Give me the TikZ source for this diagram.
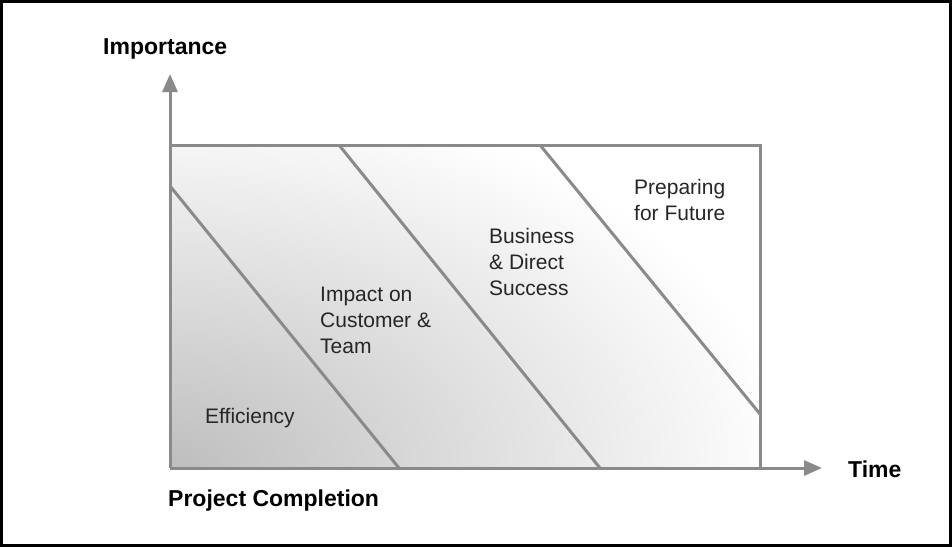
\documentclass[tikz,border=0pt]{standalone}
\usepackage{fontspec}
\setmainfont{Liberation Sans}
\usetikzlibrary{arrows.meta}
\definecolor{linegray}{HTML}{8A8A8A}
\definecolor{darkfill}{HTML}{BEBEBE}
\tikzset{
  grayline/.style={draw=linegray, line width=3pt},
  axisline/.style={draw=linegray, line width=3pt, -{Triangle[length=18pt,width=15pt]}},
  boldlabel/.style={inner sep=0pt, anchor=west, font=\bfseries\fontsize{23}{27}\selectfont},
  zonelabel/.style={inner sep=0pt, anchor=west, align=left, text=black!85, font=\fontsize{21}{26}\selectfont},
}
\begin{document}
\begin{tikzpicture}[x=1pt,y=-1pt]
\useasboundingbox (0,0) rectangle (952,547);
\draw[black, line width=3pt] (1.5,1.5) rectangle (950.5,545.5);
% coordinates
\coordinate (O) at (170,468);
\coordinate (TL) at (170,145);
\coordinate (TR) at (760,145);
\coordinate (BR) at (760,468);
\coordinate (ytip) at (170,74);
\coordinate (xtip) at (822,468);
\coordinate (d1a) at (170,186);
\coordinate (d1b) at (399,468);
\coordinate (d2a) at (339,145);
\coordinate (d2b) at (600,468);
\coordinate (d3a) at (540,145);
\coordinate (d3b) at (760,414);
% shaded area
\begin{scope}
  \clip (O) rectangle (TR);
  \shade[inner color=darkfill, outer color=white] (O) ellipse [x radius=620pt, y radius=380pt];
\end{scope}
% frame and diagonals
\draw[grayline, line cap=rect] (TL) -- (TR) -- (BR);
\draw[grayline] (d1a) -- (d1b);
\draw[grayline] (d2a) -- (d2b);
\draw[grayline] (d3a) -- (d3b);
% axes
\draw[axisline] (O) -- (ytip);
\draw[axisline] (O) -- (xtip);
% labels
\node[boldlabel] (imp) at (103,49) {Importance};
\node[boldlabel] (time) at (848,469) {Time};
\node[boldlabel] (pc) at (168,501) {Project Completion};
\node[zonelabel] (eff) at (205,418) {Efficiency};
\node[zonelabel] (imc) at (320,320) {Impact on\\Customer \&\\Team};
\node[zonelabel] (bds) at (489,262) {Business\\\& Direct\\Success};
\node[zonelabel] (pff) at (634,200) {Preparing\\for Future};
\end{tikzpicture}
\end{document}
